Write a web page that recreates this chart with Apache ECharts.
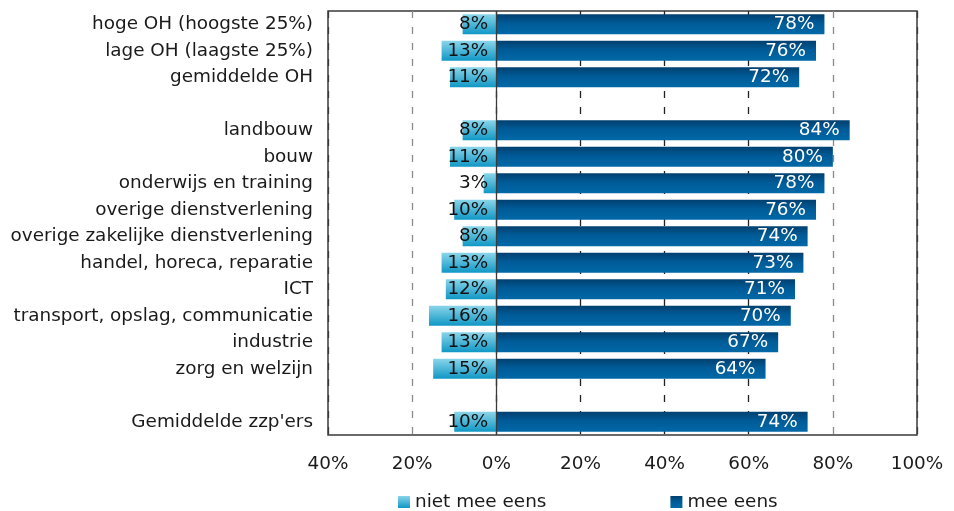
<!DOCTYPE html>
<html>
<head>
<meta charset="utf-8">
<script src="https://cdn.jsdelivr.net/npm/echarts@6/dist/echarts.min.js"></script>
<style>
  html, body { margin: 0; padding: 0; background: #fff; }
  #chart { width: 954px; height: 511px; }
</style>
</head>
<body>
<div id="chart"></div>
<script>
// categorieen van boven naar beneden (lege rijen als scheiding)
var categories = [
  'hoge OH (hoogste 25%)', 'lage OH (laagste 25%)', 'gemiddelde OH', ' ',
  'landbouw', 'bouw', 'onderwijs en training', 'overige dienstverlening',
  'overige zakelijke dienstverlening', 'handel, horeca, reparatie', 'ICT',
  'transport, opslag, communicatie', 'industrie', 'zorg en welzijn', '  ',
  "Gemiddelde zzp'ers"
];
var nietMeeEens = [8, 13, 11, null, 8, 11, 3, 10, 8, 13, 12, 16, 13, 15, null, 10];
var meeEens = [78, 76, 72, null, 84, 80, 78, 76, 74, 73, 71, 70, 67, 64, null, 74];
var xTicks = [-40, -20, 0, 20, 40, 60, 80, 100];

var font = 'DejaVu Sans';
var fs = 18.4;
var lightGrad = new echarts.graphic.LinearGradient(0, 0, 0, 1, [
  { offset: 0, color: '#8ad5e9' },
  { offset: 1, color: '#0f97c5' }
]);
var darkGrad = new echarts.graphic.LinearGradient(0, 0, 0, 1, [
  { offset: 0, color: '#00406f' },
  { offset: 0.45, color: '#005b97' },
  { offset: 1, color: '#0068a7' }
]);

var myChart = echarts.init(document.getElementById('chart'));
var option = {
  animation: false,
  textStyle: { fontFamily: font },
  legend: {
    left: 393,
    top: 488,
    icon: 'rect',
    itemWidth: 12,
    itemHeight: 12,
    itemGap: 124,
    textStyle: { fontFamily: font, fontSize: fs, color: '#1a1a1a' },
    data: ['niet mee eens', 'mee eens']
  },
  grid: {
    left: 328, right: 37, top: 11, bottom: 76,
    show: true, borderColor: '#3a3a3a', borderWidth: 1.5
  },
  xAxis: {
    type: 'value',
    min: xTicks[0],
    max: xTicks[xTicks.length - 1],
    interval: 20,
    axisLine: { show: false },
    axisTick: { show: false },
    axisLabel: {
      margin: 20,
      fontSize: fs,
      color: '#1a1a1a',
      formatter: function (v) { return Math.abs(v) + '%'; }
    },
    splitLine: {
      show: true,
      lineStyle: {
        type: [7, 9],
        width: 1.3,
        color: ['#3a3a3a', '#8a8a8a', '#3a3a3a', '#222', '#222', '#222', '#8a8a8a', '#3a3a3a']
      }
    }
  },
  yAxis: {
    type: 'category',
    inverse: true,
    data: categories,
    axisLine: { show: false },
    axisTick: { show: false },
    axisLabel: { margin: 15, fontSize: fs, color: '#1a1a1a' }
  },
  series: [
    {
      name: 'niet mee eens',
      type: 'bar',
      barWidth: 20,
      barGap: '-100%',
      data: nietMeeEens.map(function (v) { return v == null ? null : -v; }),
      itemStyle: { color: lightGrad },
      label: {
        show: true,
        position: 'insideRight',
        distance: 8,
        fontSize: fs,
        color: '#111',
        formatter: function (p) { return Math.abs(p.value) + '%'; }
      },
      markLine: {
        silent: true,
        symbol: 'none',
        label: { show: false },
        lineStyle: { color: '#3a3a3a', type: 'solid', width: 1.3 },
        data: [{ xAxis: 0 }]
      }
    },
    {
      name: 'mee eens',
      type: 'bar',
      barWidth: 20,
      barGap: '-100%',
      data: meeEens,
      itemStyle: { color: darkGrad },
      label: {
        show: true,
        position: 'insideRight',
        distance: 10,
        fontSize: fs,
        color: '#fff',
        formatter: function (p) { return p.value + '%'; }
      }
    }
  ]
};
myChart.setOption(option);
</script>
</body>
</html>
